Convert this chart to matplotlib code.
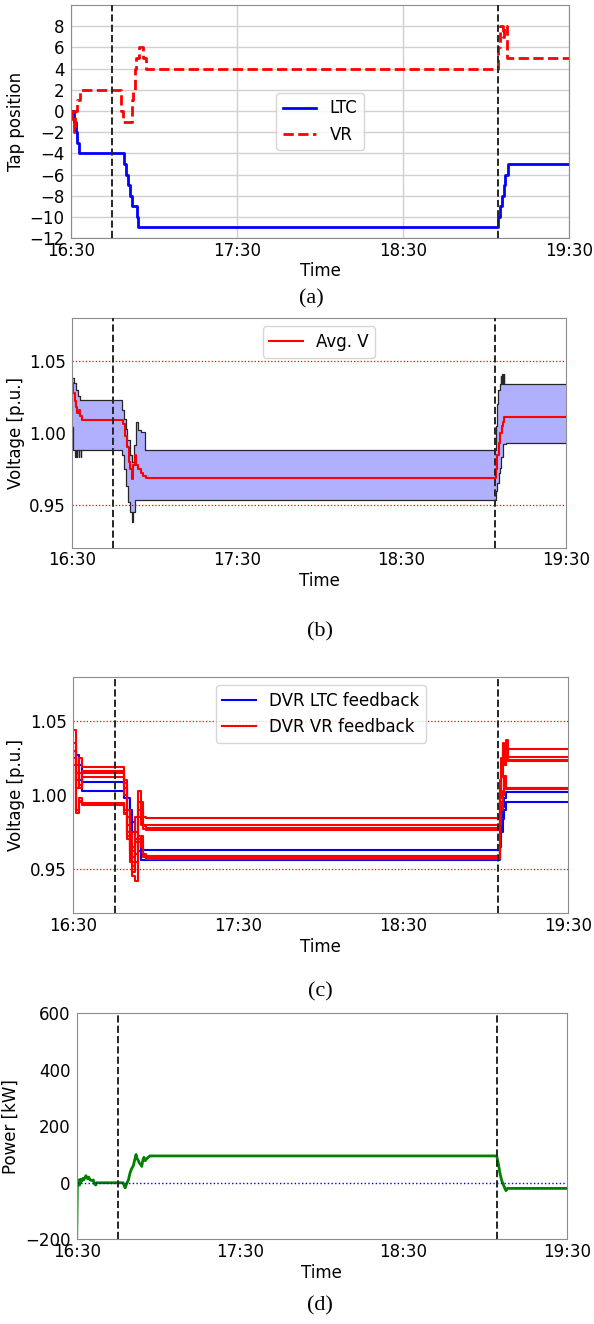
import matplotlib
matplotlib.use("Agg")
import matplotlib.pyplot as plt
import numpy as np

plt.rcParams['font.size'] = 12
plt.rcParams['axes.edgecolor'] = '0.55'
plt.rcParams['xtick.major.size'] = 0
plt.rcParams['ytick.major.size'] = 0
plt.rcParams['xtick.major.pad'] = 2.5
plt.rcParams['ytick.major.pad'] = 4.5

# x axis: minutes after 16:30
tick_pos = [0, 60, 120, 180]
tick_labels = ['16:30', '17:30', '18:30', '19:30']
events = [15, 154.3]

# (a) tap positions
ltc_t = [0, 1.1, 1.8, 2.2, 3.0, 19.3, 19.9, 20.5, 21.3, 21.9, 23.7, 24.3,
         154.3, 155.0, 155.7, 156.4, 156.9, 157.8, 180]
ltc_v = [0, -1, -2, -3, -4, -5, -6, -7, -8, -9, -10, -11,
         -10, -9, -8, -7, -6, -5, -5]
vr_t = [0, 0.4, 1.0, 1.4, 2.0, 3.1, 18.0, 18.9, 21.9, 22.4, 23.0, 23.5,
        24.7, 25.9, 27.0, 154.2, 155.0, 156.0, 156.6, 157.7, 180]
vr_v = [0, -1, -2, 0, 1, 2, 0, -1, 1, 2, 4, 5,
        6, 5, 4, 6, 8, 7, 8, 5, 5]

# (b) voltage envelope and average
vmax_t = [0, 0.8, 1.5, 2.3, 3.0, 18.3, 19.0, 19.6, 20.2, 21.2, 21.8, 22.5,
          23.3, 24.0, 25.0, 26.5, 154.4, 154.8, 155.3, 155.8, 156.3, 156.4,
          156.8, 156.9, 157.3, 157.4, 180]
vmax_v = [1.038, 1.035, 1.030, 1.026, 1.023, 1.016, 1.010, 1.003, 0.995, 0.985,
          0.980, 0.992, 1.008, 1.002, 1.001, 0.988, 1.005, 1.020, 1.030, 1.034,
          1.040, 1.034, 1.041, 1.034, 1.041, 1.034, 1.034]
vmin_t = [0, 0.5, 1.2, 1.3, 1.9, 2.0, 2.5, 2.6, 3.1, 3.2, 18.2,
          19.0, 19.8, 20.5, 21.3, 21.9, 22.3, 22.8, 154.4, 154.8, 155.4,
          156.0, 156.3, 157.2, 158.0, 180]
vmin_v = [1.004, 0.9885, 0.983, 0.9885, 0.983, 0.9885, 0.983, 0.9885, 0.983,
          0.9885, 0.985, 0.975, 0.963, 0.952, 0.945, 0.938,
          0.945, 0.9535, 0.960, 0.965, 0.972, 0.976, 0.983, 0.9926, 0.993, 0.993]
vavg_t = [0, 0.5, 1.0, 1.5, 2.0, 2.5, 3.0, 3.6, 18.7, 19.3, 20.0, 20.7, 21.3,
          21.7, 22.2, 22.8, 23.4, 24.0, 25.0, 26.0, 27.0, 154.4, 154.6, 155.0,
          155.5, 156.0, 156.5, 157.0, 157.5, 180]
vavg_v = [1.035, 1.028, 1.022, 1.018, 1.014, 1.016, 1.012, 1.009, 1.006, 0.998,
          0.990, 0.980, 0.975, 0.968, 0.978, 0.985, 0.978, 0.975, 0.972, 0.970,
          0.9685, 0.9685, 0.975, 0.985, 0.993, 1.000, 1.005, 1.008, 1.011, 1.011]

# (c) DVR feedback voltages
c_t = [0, 1, 2, 3, 17.5, 18.5, 19.5, 20.5, 21.5, 22.5, 23.5, 24.5, 25.5, 26.5,
       154.4, 155.0, 155.6, 156.2, 156.8, 157.4, 158.0, 180]
ltc_fb = [
    [1.035, 1.027, 1.020, 1.009, 1.009, 1.005, 0.998, 0.990, 0.982, 0.975, 0.970,
     0.963, 0.963, 0.963, 0.963, 0.975, 0.985, 0.992, 0.998, 1.002, 1.002, 1.002],
    [1.030, 1.020, 1.010, 1.003, 1.003, 0.998, 0.990, 0.982, 0.975, 0.970, 0.962,
     0.956, 0.956, 0.956, 0.956, 0.965, 0.975, 0.984, 0.990, 0.995, 0.995, 0.995],
]
vr_fb = [
    [1.044, 1.010, 1.025, 1.019, 1.019, 1.010, 0.990, 0.975, 0.965, 0.985, 1.003,
     0.990, 0.985, 0.9844, 0.9844, 1.010, 1.025, 1.035, 1.028, 1.037, 1.031, 1.031],
    [1.030, 1.015, 1.005, 1.0165, 1.0165, 1.008, 0.985, 0.970, 0.955, 0.975, 0.995,
     0.980, 0.980, 0.980, 0.980, 1.005, 1.020, 1.030, 1.024, 1.033, 1.026, 1.026],
    [1.035, 1.005, 1.015, 1.0147, 1.0147, 1.005, 0.980, 0.965, 0.958, 0.970, 0.990,
     0.995, 0.977, 0.9766, 0.9766, 1.000, 1.015, 1.028, 1.020, 1.030, 1.0228, 1.0228],
    [1.020, 1.010, 1.007, 1.0125, 1.0125, 1.000, 0.975, 0.960, 0.962, 0.968, 0.985,
     0.990, 0.979, 0.978, 0.978, 0.998, 1.012, 1.025, 1.020, 1.029, 1.024, 1.024],
    [1.030, 0.990, 0.998, 0.9948, 0.9948, 0.990, 0.975, 0.960, 0.945, 0.942, 0.970,
     0.972, 0.960, 0.958, 0.958, 0.985, 0.995, 1.003, 1.012, 1.004, 1.0045, 1.0045],
    [1.025, 0.988, 0.995, 0.993, 0.993, 0.988, 0.970, 0.955, 0.948, 0.955, 0.968,
     0.965, 0.959, 0.9585, 0.9585, 0.980, 0.992, 1.000, 1.010, 1.005, 1.005, 1.005],
    [1.020, 0.990, 0.996, 0.994, 0.994, 0.987, 0.972, 0.962, 0.952, 0.960, 0.972,
     0.968, 0.958, 0.957, 0.957, 0.982, 0.990, 1.000, 1.013, 1.004, 1.0042, 1.0042],
]

# (d) power
p_t = [0, 0.25, 0.5, 0.8, 1.1, 1.4, 1.8, 2.2, 2.6, 3.0, 3.4, 3.9, 4.4, 4.9, 5.5,
       6.1, 6.6, 7.0, 7.3, 17.1, 17.5, 17.8, 18.3, 19.0, 19.6, 20.2, 20.8, 21.3,
       21.8, 22.2, 22.6, 23.0, 23.5, 23.9, 24.3, 24.7, 25.2, 25.7, 26.3, 26.9,
       27.5, 154.3, 154.9, 155.5, 156.1, 156.7, 157.3, 157.7, 158.2, 180]
p_v = [-200, 0, -10, 10, -8, 12, 5, 15, 10, 18, 25, 15, 20, 10, 8,
       10, -5, -8, 0, 0, -12, -18, -5, 10, 35, 50, 60, 80,
       100, 85, 80, 70, 65, 58, 80, 90, 78, 85, 90, 95,
       95, 95, 68, 33, 9, -6, -20, -28, -20, -20]

fig = plt.figure(figsize=(5.94, 13.24), dpi=100)
ax_a = fig.add_axes([0.1195, 0.8202, 0.8385, 0.176])
ax_b = fig.add_axes([0.1212, 0.5861, 0.8317, 0.1737])
ax_c = fig.add_axes([0.1234, 0.3102, 0.8333, 0.1787])
ax_d = fig.add_axes([0.1291, 0.0640, 0.8249, 0.1707])


def fmt_time(ax):
    ax.set_xlim(0, 180)
    ax.set_xticks(tick_pos)
    ax.set_xticklabels(tick_labels)
    ax.set_xlabel('Time', labelpad=2)
    for e in events:
        ax.axvline(e, color='0.15', ls='--', lw=1.4, zorder=5)


# (a)
ax_a.plot(ltc_t, ltc_v, color='b', lw=2, drawstyle='steps-post', label='LTC')
ax_a.plot(vr_t, vr_v, color='r', lw=2, ls='--', drawstyle='steps-post', label='VR')
ax_a.set_ylim(-12, 10)
ax_a.set_yticks(range(-12, 10, 2))
ax_a.set_ylabel('Tap position')
ax_a.yaxis.set_label_coords(-0.093, 0.5)
ax_a.grid(True, color='0.82', lw=1)
ax_a.set_axisbelow(True)
ax_a.legend(loc='center')
fmt_time(ax_a)

# (b)
tb = np.union1d(vmax_t, vmin_t)
hi = np.array([vmax_v[np.searchsorted(vmax_t, t, side='right') - 1] for t in tb])
lo = np.array([vmin_v[np.searchsorted(vmin_t, t, side='right') - 1] for t in tb])
ax_b.fill_between(tb, lo, hi, step='post', color='#b0b0ff', lw=0)
ax_b.plot(vmax_t, vmax_v, color='0.15', lw=0.9, drawstyle='steps-post')
ax_b.plot(vmin_t, vmin_v, color='0.15', lw=0.9, drawstyle='steps-post')
ax_b.plot(vavg_t, vavg_v, color='r', lw=1.5, drawstyle='steps-post', label='Avg. V')
ax_b.axhline(1.05, color='r', ls=':', lw=0.9)
ax_b.axhline(0.95, color='r', ls=':', lw=0.9)
ax_b.set_ylim(0.92, 1.08)
ax_b.set_yticks([0.95, 1.00, 1.05])
ax_b.set_yticklabels(['0.95', '1.00', '1.05'])
ax_b.set_ylabel('Voltage [p.u.]')
ax_b.yaxis.set_label_coords(-0.095, 0.5)
ax_b.legend(loc='upper center')
fmt_time(ax_b)

# (c)
for i, v in enumerate(ltc_fb):
    ax_c.plot(c_t, v, color='b', lw=1.5, drawstyle='steps-post',
              label='DVR LTC feedback' if i == 0 else None)
for i, v in enumerate(vr_fb):
    ax_c.plot(c_t, v, color='r', lw=1.5, drawstyle='steps-post',
              label='DVR VR feedback' if i == 0 else None)
ax_c.axhline(1.05, color='r', ls=':', lw=0.9)
ax_c.axhline(0.95, color='r', ls=':', lw=0.9)
ax_c.set_ylim(0.92, 1.08)
ax_c.set_yticks([0.95, 1.00, 1.05])
ax_c.set_yticklabels(['0.95', '1.00', '1.05'])
ax_c.set_ylabel('Voltage [p.u.]')
ax_c.yaxis.set_label_coords(-0.098, 0.5)
ax_c.legend(loc='upper center')
fmt_time(ax_c)

# (d)
ax_d.plot(p_t, p_v, color='g', lw=2)
ax_d.axhline(0, color='b', ls=':', lw=1)
ax_d.set_ylim(-200, 600)
ax_d.set_yticks([-200, 0, 200, 400, 600])
ax_d.set_ylabel('Power [kW]')
ax_d.yaxis.set_label_coords(-0.116, 0.5)
fmt_time(ax_d)

for lab, x, y in zip(['(a)', '(b)', '(c)', '(d)'], [311, 320, 320, 320],
                     [299, 632, 992, 1306]):
    fig.text(x / 594, 1 - y / 1324, lab, ha='center', va='center',
             family='Liberation Serif', fontsize=16)

fig.savefig('out.png', dpi=100)
